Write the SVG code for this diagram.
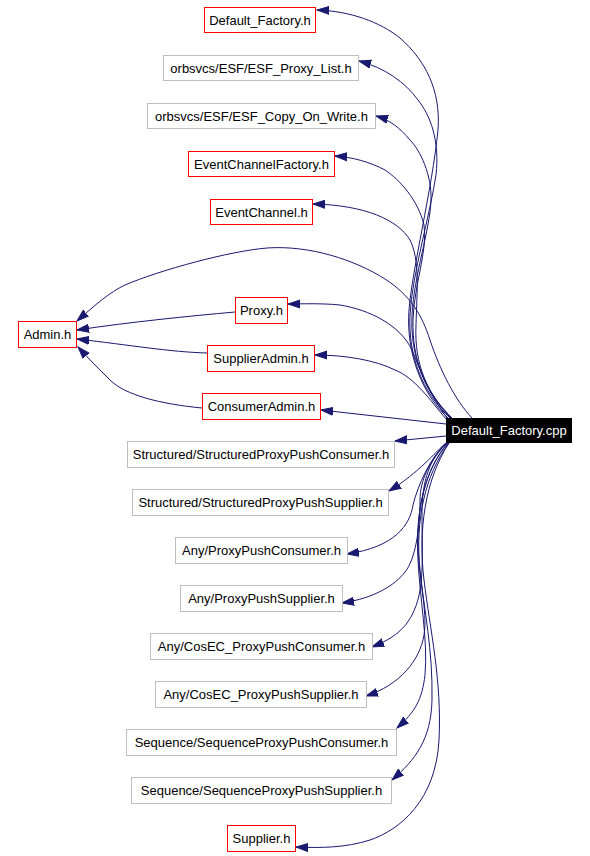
<svg xmlns="http://www.w3.org/2000/svg" width="590" height="856" viewBox="0 0 590 856">
<style>
.n rect{fill:#fff;stroke-width:1}
.r rect{stroke:#ff0000}
.g rect{stroke:#bfbfbf}
.n text{font-family:"Liberation Sans",Arial,sans-serif;font-size:13px;text-anchor:middle;fill:#000}
#edges path{fill:none;stroke:#191970;stroke-width:1;marker-end:url(#ah)}
</style>
<defs>
<marker id="ah" markerUnits="userSpaceOnUse" markerWidth="14" markerHeight="10" refX="12" refY="5" orient="auto" viewBox="0 0 14 10">
<path d="M0,1 L12,5 L0,9 z" fill="#191970" stroke="#191970"/>
</marker>
</defs>
<rect width="590" height="856" fill="#fff"/>
<g id="edges">
<path d="M448,418 C420,392 406,350 409,310 C412,270 432,190 438,130 C441,90 425,60 400,38 C380,22 350,11 317,10"/>
<path d="M450,418 C422,392 408,355 410,315 C412,275 430,215 436,175 C440,140 430,115 418,100 C405,82 385,68 359,61"/>
<path d="M451,418 C424,392 410,355 412,315 C414,275 430,230 431,200 C432,175 420,150 410,140 C400,128 390,120 376,116"/>
<path d="M452,418 C425,392 412,360 413,320 C414,285 428,250 424,225 C418,200 400,180 385,170 C370,162 352,157 335,156"/>
<path d="M452,418 C428,395 414,365 416,325 C417,290 420,260 410,240 C398,220 365,205 313,204"/>
<path d="M447,418 C430,395 420,370 412,350 C400,325 370,310 340,305 C320,303 300,304 288,304"/>
<path d="M446,419 C430,400 415,378 395,370 C375,360 345,355 315,355"/>
<path d="M446,424 L321,410"/>
<path d="M472,418 C455,400 440,370 430,340 C422,315 410,295 385,279 C355,260 310,245 267,248 C230,251 160,270 125,285 C110,292 95,305 77,321"/>
<path d="M235,312 C190,316 130,322 77,330"/>
<path d="M207,353 C170,352 130,345 77,339"/>
<path d="M202,408 C160,404 125,395 110,380 C98,368 88,358 78,347"/>
<path d="M446,436 L395,441"/>
<path d="M446,443 C435,452 420,472 389,491"/>
<path d="M446,443 C430,458 418,485 413,505 C410,525 395,547 347,554"/>
<path d="M447,443 C430,460 420,480 420,500 C420,530 415,560 405,572 C395,585 375,598 342,603"/>
<path d="M447,443 C430,458 422,480 422,513 C422,560 425,590 412,615 C405,628 395,638 372,647"/>
<path d="M448,443 C428,465 418,500 418,540 C418,580 428,610 424,635 C420,660 400,685 366,696"/>
<path d="M448,443 C425,470 415,510 418,560 C420,600 428,640 425,675 C422,700 415,712 397,728"/>
<path d="M449,443 C425,475 415,520 420,570 C424,610 433,650 432,700 C431,740 415,760 392,780"/>
<path d="M449,443 C425,480 418,530 424,580 C430,630 442,680 439,740 C436,800 400,830 370,840 C345,848 320,848 296,847"/>
</g>
<g id="n_default_factory_h" class="n r"><rect x="204.5" y="7.5" width="111" height="25"/><text x="260" y="24.5">Default_Factory.h</text></g>
<g id="n_esf_proxy_list" class="n g"><rect x="163.5" y="55.5" width="195" height="25"/><text x="261" y="72.5">orbsvcs/ESF/ESF_Proxy_List.h</text></g>
<g id="n_esf_copy_on_write" class="n g"><rect x="147.5" y="103.5" width="228" height="25"/><text x="261.5" y="120.5">orbsvcs/ESF/ESF_Copy_On_Write.h</text></g>
<g id="n_eventchannelfactory" class="n r"><rect x="188.5" y="151.5" width="146" height="25"/><text x="261.5" y="168.5">EventChannelFactory.h</text></g>
<g id="n_eventchannel" class="n r"><rect x="210.5" y="199.5" width="102" height="25"/><text x="261.5" y="216.5">EventChannel.h</text></g>
<g id="n_admin" class="n r"><rect x="18.5" y="321.5" width="58" height="26"/><text x="47.5" y="339">Admin.h</text></g>
<g id="n_proxy" class="n r"><rect x="235.5" y="297.5" width="52" height="26"/><text x="261.5" y="315">Proxy.h</text></g>
<g id="n_supplieradmin" class="n r"><rect x="207.5" y="345.5" width="107" height="26"/><text x="261" y="363">SupplierAdmin.h</text></g>
<g id="n_consumeradmin" class="n r"><rect x="202.5" y="393.5" width="118" height="26"/><text x="261.5" y="411">ConsumerAdmin.h</text></g>
<g id="n_default_factory_cpp"><rect x="446" y="418" width="126" height="25" fill="#000"/><text x="509" y="435" font-family="Liberation Sans,Arial,sans-serif" font-size="13" text-anchor="middle" fill="#fff">Default_Factory.cpp</text></g>
<g id="n_structured_consumer" class="n g"><rect x="127.5" y="441.5" width="267" height="26"/><text x="261" y="459">Structured/StructuredProxyPushConsumer.h</text></g>
<g id="n_structured_supplier" class="n g"><rect x="132.5" y="489.5" width="256" height="26"/><text x="260.5" y="507">Structured/StructuredProxyPushSupplier.h</text></g>
<g id="n_any_consumer" class="n g"><rect x="175.5" y="537.5" width="172" height="26"/><text x="261.5" y="555">Any/ProxyPushConsumer.h</text></g>
<g id="n_any_supplier" class="n g"><rect x="180.5" y="585.5" width="162" height="26"/><text x="261.5" y="603">Any/ProxyPushSupplier.h</text></g>
<g id="n_cosec_consumer" class="n g"><rect x="150.5" y="633.5" width="222" height="26"/><text x="261.5" y="651">Any/CosEC_ProxyPushConsumer.h</text></g>
<g id="n_cosec_supplier" class="n g"><rect x="155.5" y="681.5" width="211" height="26"/><text x="261" y="699">Any/CosEC_ProxyPushSupplier.h</text></g>
<g id="n_sequence_consumer" class="n g"><rect x="126.5" y="729.5" width="270" height="26"/><text x="261.5" y="747">Sequence/SequenceProxyPushConsumer.h</text></g>
<g id="n_sequence_supplier" class="n g"><rect x="131.5" y="777.5" width="260" height="26"/><text x="261.5" y="795">Sequence/SequenceProxyPushSupplier.h</text></g>
<g id="n_supplier" class="n r"><rect x="227.5" y="825.5" width="68" height="26"/><text x="261.5" y="843">Supplier.h</text></g>
</svg>
